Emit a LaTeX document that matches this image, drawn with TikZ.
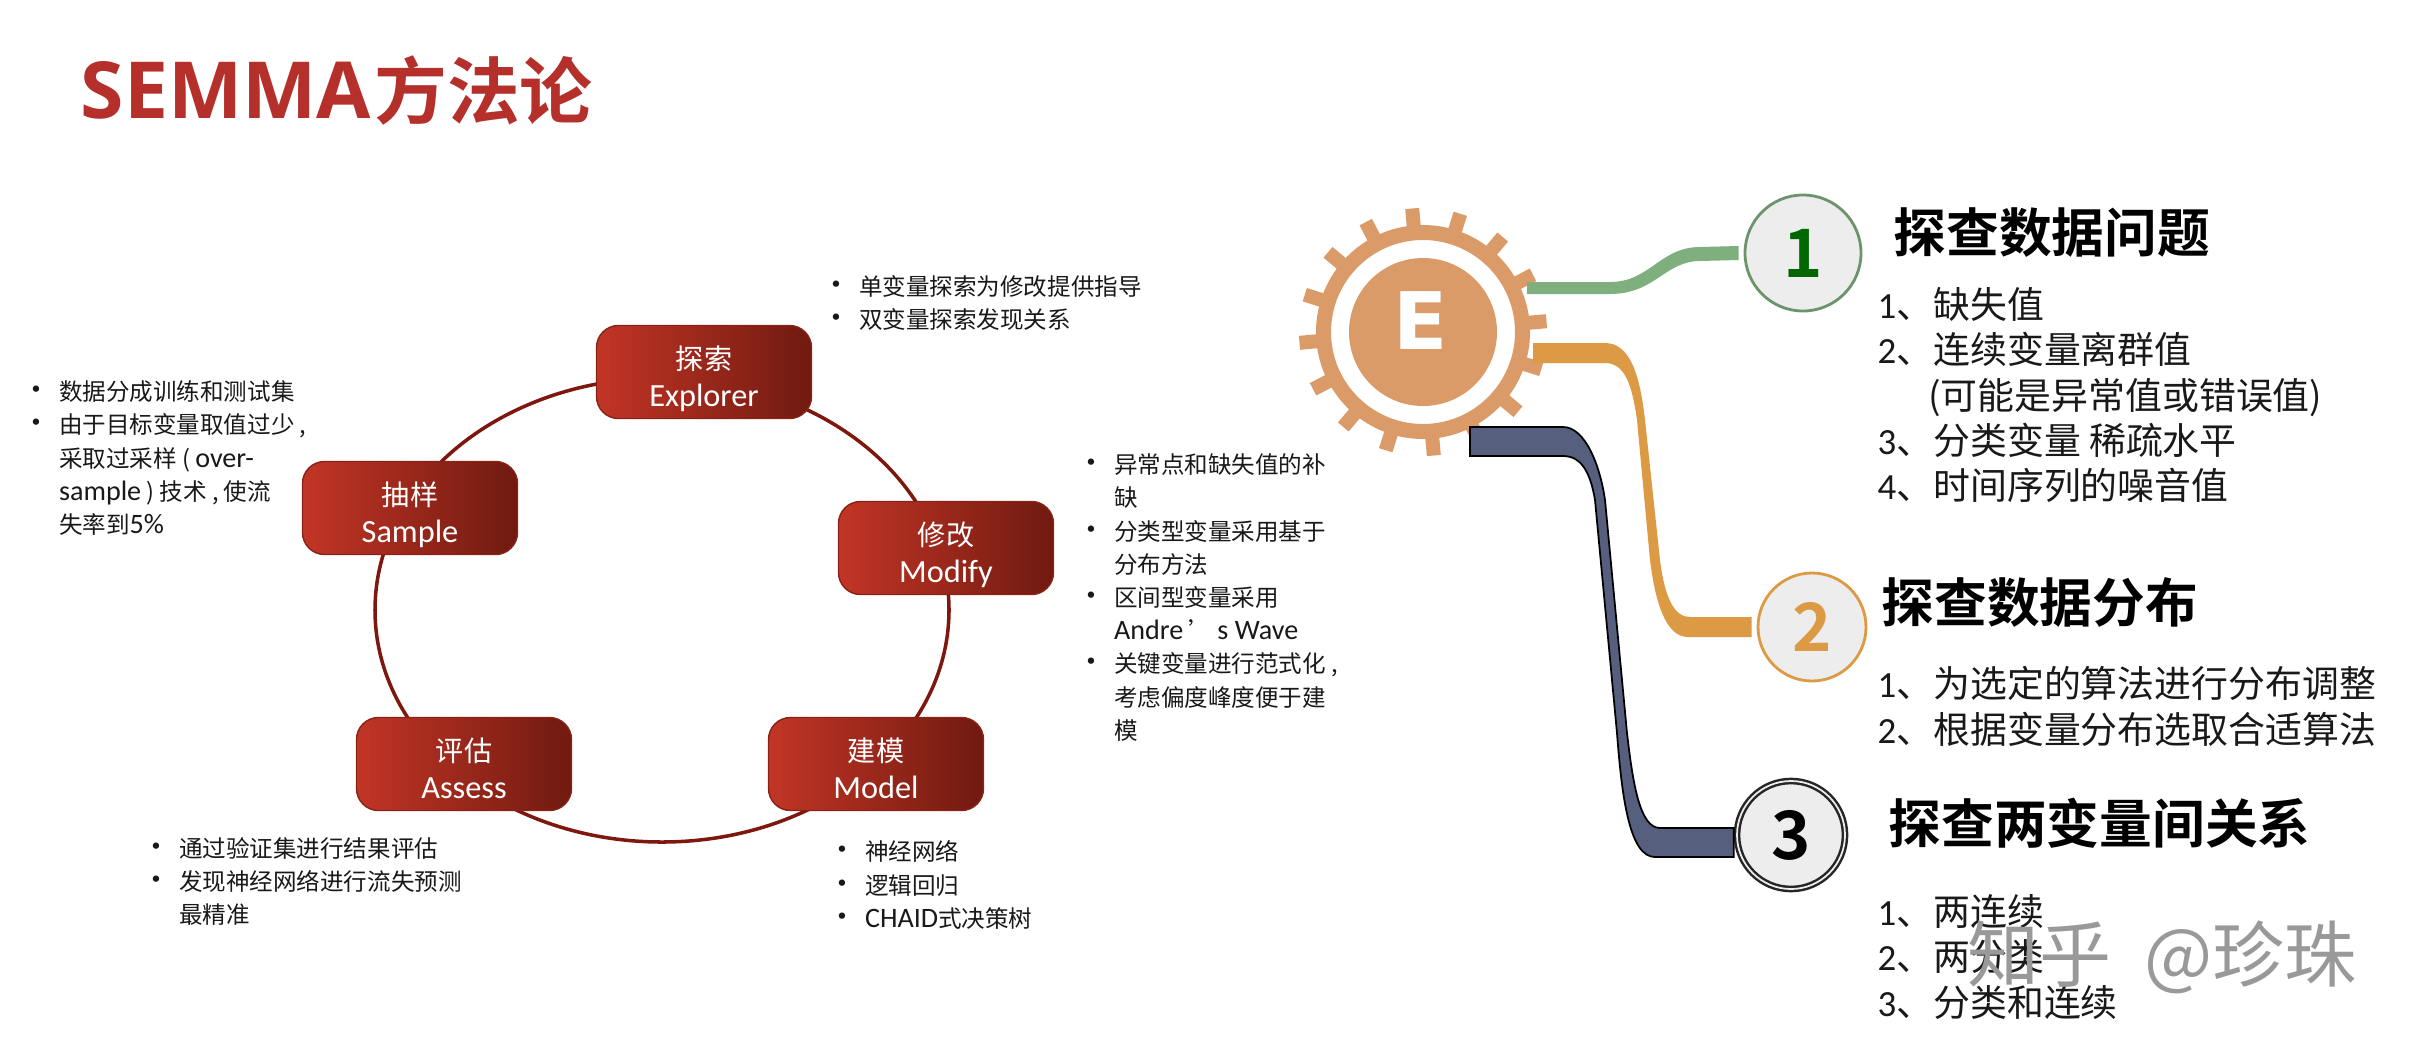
\documentclass[tikz,border=0pt]{standalone}
\usepackage{fontspec}
\usetikzlibrary{calc,shapes.geometric}
\setmainfont{Noto Sans CJK SC}[BoldFont={Noto Sans CJK SC Bold}]
\newfontfamily\en{Carlito}
\newfontfamily\hd{Open Sans}
\newfontfamily\hv{DejaVu Sans}
\definecolor{boxl}{HTML}{C23526}
\definecolor{boxr}{HTML}{701A10}
\definecolor{ringc}{HTML}{DB9B68}
\definecolor{wa}{HTML}{7FAE7F}
\definecolor{wb}{HTML}{DD9A45}
\definecolor{wc}{HTML}{565F7D}
\definecolor{ttlc}{HTML}{B5302A}
\newcommand{\bul}{\makebox[9.5pt][l]{\hspace{-1.1pt}\fontsize{8.5}{9.45}\selectfont •}}
\newcommand{\ind}{\hspace*{9.5pt}}
\newcommand{\lat}[1]{{\en\fontsize{9.2}{10.4}\selectfont #1}}
\newcommand{\lit}[1]{{\en\fontsize{8}{9.45}\selectfont #1}}
\begin{document}
\begin{tikzpicture}[node distance=1.5cm]
\tikzstyle{stage}=[draw=boxr!70!boxl, rounded corners=2.2mm, left color=boxl, right color=boxr, text=white, minimum width=2.15cm, minimum height=.93cm, align=center, font=\fontsize{8}{10.6}\selectfont, inner sep=0pt, text height=22pt, text depth=2.5pt]
\tikzstyle{lst}=[align=left, anchor=north west, inner sep=0pt, text=black!90, font=\fontsize{6.7}{9.45}\selectfont]
\tikzstyle{num}=[circle, fill=black!7, minimum size=1.08cm, inner sep=0pt, font=\fontsize{19}{19}\bfseries\selectfont]
\tikzstyle{ttl}=[anchor=west, inner sep=0pt, font=\fontsize{15}{15}\bfseries\selectfont]
\tikzstyle{det}=[align=left, anchor=north west, inner sep=0pt, text=black!90, font=\fontsize{10.5}{12.85}\selectfont]
\useasboundingbox (0,0) rectangle (24.1,-10.56);
\fill[white] (0,0) rectangle (24.1,-10.56);

\node (title) at (.8,-.91) [anchor=west, inner sep=0pt, text=ttlc, font=\fontsize{20.7}{20.7}\bfseries\selectfont] {{\hd\fontsize{22.4}{22.4}\selectfont SEMMA}\hspace{1pt}方法论};

% ring of stages
\coordinate (hub) at (6.62,-6.1);
\draw[boxr!90!red, line width=1pt] (hub) ellipse (2.87cm and 2.32cm);
\node (ex) at (7.04,-3.72) [stage] {探索\\\lat{Explorer}};
\node (sa) [below of=ex, node distance=1.36cm, xshift=-2.94cm, stage] {抽样\\\lat{Sample}};
\node (mo) [below of=ex, node distance=1.76cm, xshift=2.42cm, stage] {修改\\\lat{Modify}};
\node (ml) [below of=ex, node distance=3.92cm, xshift=1.72cm, stage] {建模\\\lat{Model}};
\node (as) [below of=ex, node distance=3.92cm, xshift=-2.4cm, stage] {评估\\\lat{Assess}};

\node (lsa) at (.25,-3.80) [lst] {\bul 数据分成训练和测试集\\\bul 由于目标变量取值过少 ,\\\ind 采取过采样 ( \lit{over-}\\\ind \lit{sample} ) 技术 , 使流\\\ind 失率到\lit{5\%}};
\node (lex) at (8.25,-2.75) [lst] {\bul 单变量探索为修改提供指导\\\bul 双变量探索发现关系};
\node (lmo) at (10.80,-4.53) [lst] {\bul 异常点和缺失值的补\\\ind 缺\\\bul 分类型变量采用基于\\\ind 分布方法\\\bul 区间型变量采用\\\ind \lit{Andre} ’ \lit{s Wave}\\\bul 关键变量进行范式化 ,\\\ind 考虑偏度峰度便于建\\\ind 模};
\node (las) at (1.45,-8.365) [lst] {\bul 通过验证集进行结果评估\\\bul 发现神经网络进行流失预测\\\ind 最精准};
\node (lml) at (8.31,-8.40) [lst] {\bul 神经网络\\\bul 逻辑回归\\\bul \lit{CHAID}式决策树};

% gear
\coordinate (gc) at (14.23,-3.32);
\foreach \a in {0,...,15}
  \fill[ringc, rotate around={5+22.5*\a:(gc)}] ($(gc)+(.95,-.07)$) rectangle ($(gc)+(1.24,.07)$);
\fill[ringc, even odd rule] (gc) circle (1.07cm) (gc) circle (.92cm);
\fill[ringc] (gc) circle (.74cm);
\node (gear) at (14.21,-3.21) [inner sep=0pt, text=white, font=\fontsize{22.6}{22.6}\bfseries\selectfont] {\hv E};

% numbers
\node (n1) at (18.03,-2.53) [num, draw=wa!85!black, line width=.8pt, text=green!40!black, minimum size=1.16cm] {1};
\node (n2) at (18.12,-6.27) [num, draw=wb, line width=.8pt, text=wb] {2};
\node (n3) at (17.91,-8.35) [num, draw=black!85, double=black!7, double distance=.5pt, line width=.7pt] {3};

% wires
\coordinate (s1) at (15.27,-2.88);
\coordinate (s2) at (15.33,-3.53);
\coordinate (s3) at (14.7,-4.41);
\fill[wa] ($(s1)+(0,.06)$) -- (16.1,-2.82) .. controls (16.5,-2.82) and (16.6,-2.47) .. (17,-2.47) -- ($(n1.west)+(-.05,.07)$) -- ($(n1.west)+(-.05,-.07)$) -- (17,-2.61) .. controls (16.65,-2.61) and (16.55,-2.94) .. (16.1,-2.94) -- ($(s1)+(0,-.06)$) -- cycle;
\fill[wb] ($(s2)+(0,.1)$) -- (16.05,-3.43) .. controls (16.3,-3.43) and (16.4,-3.75) .. (16.45,-4.2) -- (16.6,-5.6) .. controls (16.65,-6) and (16.75,-6.17) .. (16.9,-6.17) -- ($(n2.west)+(-.05,.1)$) -- ($(n2.west)+(-.05,-.1)$) -- (16.88,-6.37) .. controls (16.65,-6.37) and (16.55,-6) .. (16.5,-5.6) -- (16.37,-4.2) .. controls (16.32,-3.85) and (16.25,-3.63) .. (16.05,-3.63) -- ($(s2)+(0,-.1)$) -- cycle;
\draw[fill=wc, black, line width=.5pt, fill=wc] ($(s3)+(0,.14)$) -- (15.63,-4.27) .. controls (15.85,-4.27) and (16,-4.65) .. (16.05,-5) -- (16.27,-7.33) .. controls (16.33,-7.85) and (16.4,-8.28) .. (16.6,-8.28) -- ($(n3.west)+(-.02,.07)$) -- ($(n3.west)+(-.02,-.22)$) -- (16.55,-8.57) .. controls (16.3,-8.57) and (16.22,-8) .. (16.17,-7.33) -- (15.95,-5) .. controls (15.9,-4.7) and (15.8,-4.56) .. (15.63,-4.56) -- ($(s3)+(0,-.15)$) -- cycle;

% headings on the right
\node (t1) at (18.93,-2.33) [ttl] {探查数据问题};
\node (t2) at (18.81,-6.03) [ttl] {探查数据分布};
\node (t3) at (18.88,-8.23) [ttl] {探查两变量间关系};

\node (d1) at (18.77,-2.87) [det] {{\en 1}、缺失值\\{\en 2}、连续变量离群值\\\hspace*{14.4pt}(可能是异常值或错误值)\\{\en 3}、分类变量 稀疏水平\\{\en 4}、时间序列的噪音值};
\node (d2) at (18.77,-6.66) [det] {{\en 1}、为选定的算法进行分布调整\\{\en 2}、根据变量分布选取合适算法};
\node (d3) at (18.77,-8.94) [det] {{\en 1}、两连续\\{\en 2}、两分类\\{\en 3}、分类和连续};

\node (zh) at (19.67,-9.57) [anchor=west, inner sep=0pt, text=black!40, font=\fontsize{20.5}{20.5}\selectfont] {知乎\ \ @珍珠};
\end{tikzpicture}
\end{document}
